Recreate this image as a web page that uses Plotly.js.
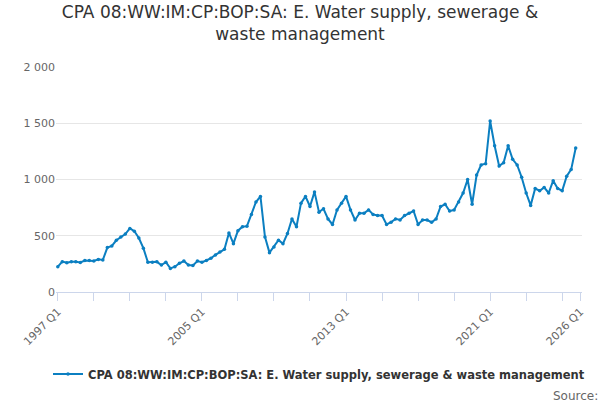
<!DOCTYPE html>
<html><head><meta charset="utf-8">
<script src="https://cdn.plot.ly/plotly-3.0.1.min.js"></script>
<style>html,body{margin:0;padding:0;background:#fff}#plot{width:600px;height:400px}</style>
</head><body><div id="plot"></div>
<script>
const years = [];
for (let y = 1997; y <= 2025; y++) years.push(y);
const quarters = [];
years.forEach((y) => ["Q1", "Q2", "Q3", "Q4"].forEach((q) => quarters.push(y + " " + q)));
quarters.push("2026 Q1");

const values = [
  225, 270, 260, 268, 268, 262, 280, 280, 275, 290, 285, 395,
  410, 460, 490, 515, 565, 540, 480, 390, 265, 265, 268, 240,
  265, 210, 225, 255, 275, 240, 235, 275, 265, 280, 300, 330,
  355, 380, 525, 430, 545, 580, 585, 690, 800, 850, 490, 350,
  400, 460, 430, 520, 650, 580, 790, 850, 760, 890, 710, 740,
  650, 600, 730, 790, 850, 730, 640, 700, 700, 730, 690, 680,
  680, 600, 620, 650, 640, 680, 700, 720, 600, 640, 640, 620,
  650, 760, 780, 720, 730, 800, 880, 1000, 780, 1040, 1130, 1140,
  1520, 1300, 1120, 1150, 1300, 1180, 1130, 1020, 880, 770, 920, 900,
  930, 880, 990, 920, 900, 1030, 1090, 1280,
];
const tickLabels = ["1997 Q1", "2005 Q1", "2013 Q1", "2021 Q1", "2026 Q1"];
const yTicks = [0, 500, 1000, 1500, 2000];
const yTickText = ["0", "500", "1 000", "1 500", "2 000"];

const xIdx = quarters.map((_, i) => i);
const tickIdx = tickLabels.map((t) => quarters.indexOf(t));
const name = "CPA 08:WW:IM:CP:BOP:SA: E. Water supply, sewerage & waste management";

Plotly.newPlot("plot", [{
  type: "scatter", mode: "lines+markers",
  x: xIdx, y: values, name: "<b>" + name + "</b>",
  line: { color: "#0b7fc1", width: 2 },
  marker: { color: "#0b7fc1", size: 3.5 },
}], {
  width: 600, height: 400,
  font: { family: "DejaVu Sans, sans-serif", color: "#333" },
  title: { text: "CPA 08:WW:IM:CP:BOP:SA: E. Water supply, sewerage &<br>waste management",
    font: { size: 17, color: "#333" }, x: 0.5, y: 0.955 },
  margin: { l: 56, r: 18, t: 67, b: 102 },
  showlegend: true,
  legend: { orientation: "h", x: 0.5, xanchor: "center", y: -0.3, font: { size: 11.5, color: "#333" } },
  xaxis: {
    range: [-0.4, 116.4], tickvals: tickIdx, ticktext: tickLabels, tickangle: -45,
    showgrid: false, zeroline: false, showline: true, linecolor: "#ccd6eb",
    ticks: "outside", tickcolor: "#ccd6eb", ticklen: 8,
    minor: { dtick: 8, tick0: 0, ticks: "outside", ticklen: 8, tickcolor: "#ccd6eb" },
    tickfont: { size: 11, color: "#666" },
  },
  yaxis: {
    range: [0, 2000], tickvals: yTicks, ticktext: yTickText,
    gridcolor: "#e6e6e6", zeroline: false, tickfont: { size: 11, color: "#666" },
  },
  annotations: [{ text: "Source:", xref: "paper", yref: "paper", x: 1.035, y: -0.42,
    xanchor: "right", yanchor: "top", showarrow: false, font: { size: 12, color: "#666" } }],
}, { displayModeBar: false });
</script></body></html>
